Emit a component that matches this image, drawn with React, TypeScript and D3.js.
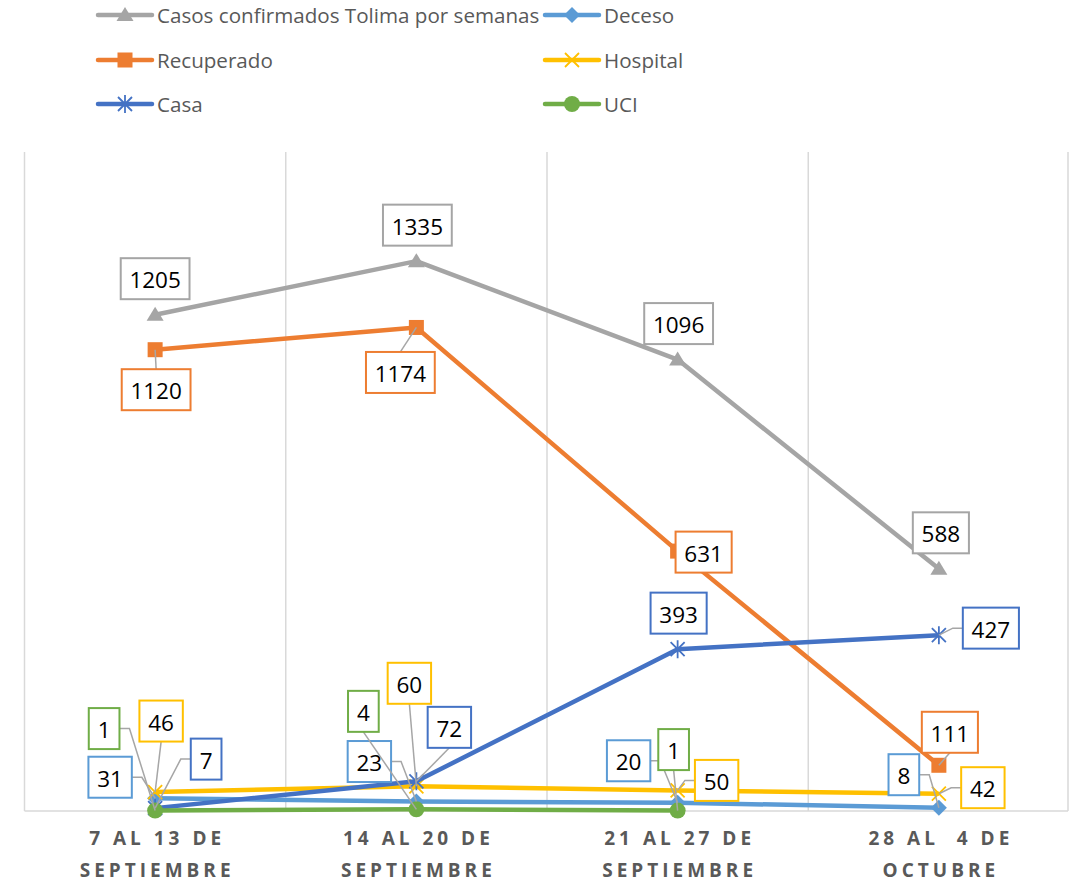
import * as d3 from 'd3';

const categories = ['c1', 'c2', 'c3', 'c4'];
const categoryLines = [
  ['7 AL 13 DE', 'SEPTIEMBRE'],
  ['14 AL 20 DE', 'SEPTIEMBRE'],
  ['21 AL 27 DE', 'SEPTIEMBRE'],
  ['28 AL  4 DE', 'OCTUBRE'],
];

const casos = [1205, 1335, 1096, 588];
const deceso = [31, 23, 20, 8];
const recuperado = [1120, 1174, 631, 111];
const hospital = [46, 60, 50, 42];
const casa = [7, 72, 393, 427];
const uci = [1, 4, 1, null];

type Mode = 'none' | 'side' | 'vert';
type Lab = [number, number, Mode];

// label box offsets (centre of box relative to point) and leader style
const series = [
  { name: 'Casos confirmados Tolima por semanas', values: casos, color: '#A5A5A5', marker: 'triangle',
    labels: [[0, -36, 'none'], [1, -36, 'none'], [1, -36, 'none'], [2, -36, 'none']] as Lab[] },
  { name: 'Deceso', values: deceso, color: '#5B9BD5', marker: 'diamond',
    labels: [[-45, -21, 'side'], [-47, -40, 'side'], [-49, -42, 'side'], [-35, -33, 'side']] as Lab[] },
  { name: 'Recuperado', values: recuperado, color: '#ED7D31', marker: 'square',
    labels: [[1, 40, 'vert'], [-16, 45, 'vert'], [26, 1, 'none'], [11, -33, 'vert']] as Lab[] },
  { name: 'Hospital', values: hospital, color: '#FFC000', marker: 'x',
    labels: [[6, -71, 'vert'], [-7, -103, 'vert'], [39, -10, 'side'], [44, -6, 'side']] as Lab[] },
  { name: 'Casa', values: casa, color: '#4472C4', marker: 'star',
    labels: [[51, -49, 'side'], [33, -54, 'vert'], [1, -36, 'none'], [52, -7, 'side']] as Lab[] },
  { name: 'UCI', values: uci, color: '#70AD47', marker: 'circle',
    labels: [[-51, -82, 'side'], [-53, -98, 'vert'], [-4, -61, 'vert'], [0, 0, 'none']] as Lab[] },
];

const W = 1071;
const H = 884;
const left = 24.5;
const right = 1069.5;
const top = 152;
const bottom = 811;

function Marker({ type, x, y, color }: { type: string; x: number; y: number; color: string }) {
  if (type === 'triangle') {
    return <path d={`M${x},${y - 8}L${x + 8.5},${y + 6}L${x - 8.5},${y + 6}Z`} fill={color} />;
  }
  if (type === 'square') {
    return <rect x={x - 7.5} y={y - 7.5} width={15} height={15} fill={color} />;
  }
  if (type === 'diamond') {
    return <path d={`M${x},${y - 8}L${x + 8},${y}L${x},${y + 8}L${x - 8},${y}Z`} fill={color} />;
  }
  if (type === 'circle') {
    return <circle cx={x} cy={y} r={8} fill={color} />;
  }
  if (type === 'x') {
    return <path d={`M${x - 7},${y - 7}L${x + 7},${y + 7}M${x + 7},${y - 7}L${x - 7},${y + 7}`} stroke={color} strokeWidth={1.8} />;
  }
  return (
    <path
      d={`M${x - 7},${y - 7}L${x + 7},${y + 7}M${x + 7},${y - 7}L${x - 7},${y + 7}M${x},${y - 9}L${x},${y + 9}`}
      stroke={color}
      strokeWidth={1.8}
    />
  );
}

export default function App() {
  const x = d3.scaleBand<string>().domain(categories).range([left, right]);
  const y = d3.scaleLinear().domain([0, 1600]).range([bottom, top]);
  const cx = (i: number) => (x(categories[i]) as number) + x.bandwidth() / 2;

  const line = d3
    .line<number | null>()
    .defined(d => d !== null)
    .x((_, i) => cx(i))
    .y(d => y(d as number));

  const gridXs = [...categories.map(c => x(c) as number), right - 1.5];
  const legendRows = [15, 60, 104];
  const legendCols = [98, 545];
  const font = '"Open Sans", "Noto Sans", sans-serif';

  return (
    <svg width={W} height={H} style={{ position: 'absolute', left: 0, top: 0, background: '#fff' }}>
      {gridXs.map((gx, i) => (
        <line key={i} x1={gx} x2={gx} y1={top} y2={bottom} stroke="#D9D9D9" strokeWidth={1.5} />
      ))}
      <line x1={left} x2={right - 1.5} y1={bottom} y2={bottom} stroke="#D9D9D9" strokeWidth={1.5} />

      {series.map(s => (
        <g key={s.name}>
          <path d={line(s.values) || ''} fill="none" stroke={s.color} strokeWidth={4.5} strokeLinejoin="round" />
          {s.values.map((v, i) =>
            v === null ? null : <Marker key={i} type={s.marker} x={cx(i)} y={y(v)} color={s.color} />
          )}
        </g>
      ))}

      {series.map(s =>
        s.values.map((v, i) => {
          if (v === null) return null;
          const [dx, dy, mode] = s.labels[i];
          const px = cx(i);
          const py = y(v);
          const bx = px + dx;
          const by = py + dy;
          const bw = 18 + 12.7 * String(v).length;
          const bh = 41;
          let leader = '';
          if (mode === 'side') {
            const ex = px > bx ? bx + bw / 2 : bx - bw / 2;
            const stub = px > bx ? ex + 10 : ex - 10;
            leader = `M${ex},${by}L${stub},${by}L${px},${py}`;
          } else if (mode === 'vert') {
            const ey = py > by ? by + bh / 2 : by - bh / 2;
            leader = `M${bx},${ey}L${px},${py}`;
          }
          return (
            <g key={s.name + i}>
              {leader && <path d={leader} fill="none" stroke="#A6A6A6" strokeWidth={1.5} />}
              <rect x={bx - bw / 2} y={by - bh / 2} width={bw} height={bh} fill="#fff" stroke={s.color} strokeWidth={2} />
              <text x={bx} y={by + 1} textAnchor="middle" dominantBaseline="central" fontFamily={font} fontSize={22.5} fill="#000">
                {v}
              </text>
            </g>
          );
        })
      )}

      {series.map((s, i) => {
        const lx = legendCols[i % 2];
        const ly = legendRows[Math.floor(i / 2)];
        return (
          <g key={'leg' + i}>
            <line x1={lx} x2={lx + 54} y1={ly} y2={ly} stroke={s.color} strokeWidth={4.5} strokeLinecap="round" />
            <Marker type={s.marker} x={lx + 27} y={ly} color={s.color} />
            <text x={lx + 59} y={ly} dominantBaseline="central" fontFamily={font} fontSize={20.6} fill="#595959">
              {s.name}
            </text>
          </g>
        );
      })}

      {categoryLines.map((lines, i) => (
        <text
          key={'cat' + i}
          x={cx(i)}
          textAnchor="middle"
          fontFamily={font}
          fontWeight="bold"
          fontSize={19}
          letterSpacing={4}
          fill="#595959"
          style={{ whiteSpace: 'pre' }}
        >
          {lines.map((t, j) => (
            <tspan key={j} x={cx(i) + 2} y={845 + j * 32}>
              {t}
            </tspan>
          ))}
        </text>
      ))}
    </svg>
  );
}
